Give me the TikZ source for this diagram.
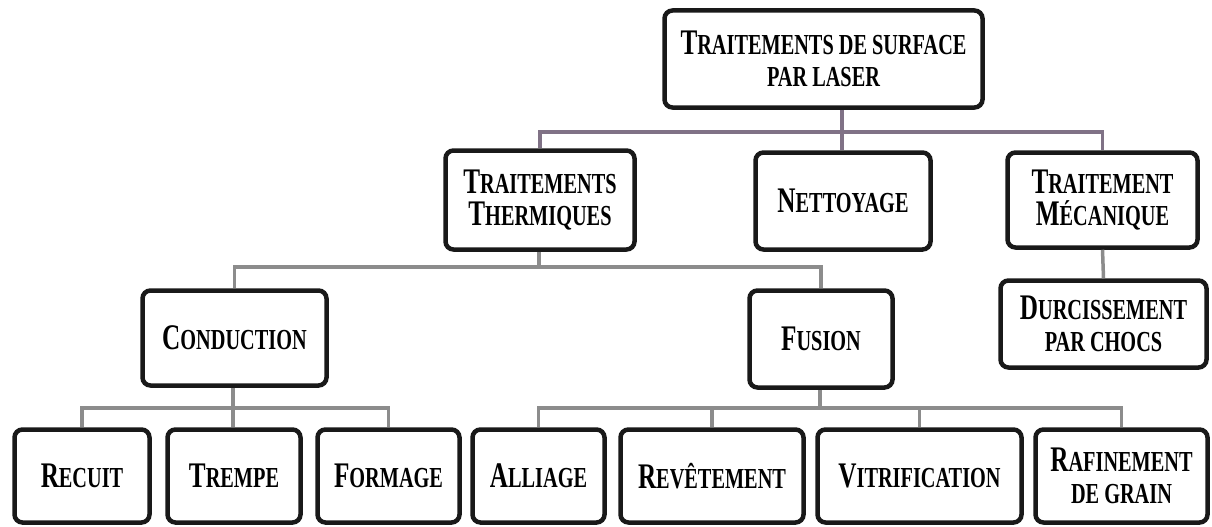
\documentclass[tikz,border=0pt]{standalone}
\usepackage{fontspec}
\newfontfamily\boxfont{Liberation Serif}[FakeStretch=0.7]
\newcommand\sk[2]{{\fontsize{36}{32}\selectfont #1}{\fontsize{29}{32}\selectfont #2}}
\definecolor{topline}{RGB}{128,114,134}
\definecolor{subline}{RGB}{140,140,140}
\definecolor{boxline}{RGB}{25,25,25}
\tikzset{
  box/.style={draw=boxline, line width=4.5pt, rounded corners=8pt, fill=white,
    align=center, inner sep=0pt, font=\boxfont\bfseries\fontsize{36}{32}\selectfont},
  conn/.style={line width=3.5pt, draw=subline},
  topconn/.style={line width=3.5pt, draw=topline},
}
\begin{document}
\begin{tikzpicture}[x=1pt,y=-1pt]
\useasboundingbox (0,0) rectangle (1212,527);
\coordinate (j1) at (842,132);
\coordinate (j2) at (539,267);
\coordinate (j3) at (233,408);
\coordinate (j4) at (820,408);
% boxes
\node[box, minimum width=318pt, minimum height=97pt] (root) at (823.5,59) {\sk{T}{RAITEMENTS DE SURFACE}\\\sk{}{PAR LASER}};
\node[box, minimum width=189pt, minimum height=99pt] (therm) at (540,200) {\sk{T}{RAITEMENTS}\\\sk{T}{HERMIQUES}};
\node[box, minimum width=175pt, minimum height=97pt] (nett) at (843,201) {\sk{N}{ETTOYAGE}};
\node[box, minimum width=190pt, minimum height=95pt] (meca) at (1102.5,200) {\sk{T}{RAITEMENT}\\\sk{M}{ÉCANIQUE}};
\node[box, minimum width=206pt, minimum height=87pt] (durc) at (1103.5,324) {\sk{D}{URCISSEMENT}\\\sk{}{PAR CHOCS}};
\node[box, minimum width=184pt, minimum height=95pt] (cond) at (234.5,338) {\sk{C}{ONDUCTION}};
\node[box, minimum width=143pt, minimum height=97pt] (fusion) at (821,339) {\sk{F}{USION}};
\node[box, minimum width=135pt, minimum height=93pt] (recuit) at (82,476) {\sk{R}{ECUIT}};
\node[box, minimum width=133pt, minimum height=93pt] (trempe) at (234,476) {\sk{T}{REMPE}};
\node[box, minimum width=142pt, minimum height=93pt] (formage) at (388.5,476) {\sk{F}{ORMAGE}};
\node[box, minimum width=132pt, minimum height=93pt] (alliage) at (538.5,476) {\sk{A}{LLIAGE}};
\node[box, minimum width=183pt, minimum height=93pt] (revet) at (712,476) {\sk{R}{EVÊTEMENT}};
\node[box, minimum width=204pt, minimum height=93pt] (vitri) at (919.5,476) {\sk{V}{ITRIFICATION}};
\node[box, minimum width=172pt, minimum height=93pt] (rafin) at (1121.5,476) {\sk{R}{AFINEMENT}\\\sk{}{DE GRAIN}};
% connectors
\draw[topconn] (root.south -| j1) -- (j1) -| (therm.north);
\draw[topconn] (j1) -- (nett.north -| j1);
\draw[topconn] (j1) -| (meca.north);
\draw[conn] (meca.south) -- (durc.north);
\draw[conn] (therm.south -| j2) -- (j2) -| (cond.north);
\draw[conn] (j2) -| (fusion.north);
\draw[conn] (cond.south -| j3) -- (j3) -| (recuit.north);
\draw[conn] (j3) -- (trempe.north -| j3);
\draw[conn] (j3) -| (formage.north);
\draw[conn] (fusion.south -| j4) -- (j4) -| (alliage.north);
\draw[conn] (j4) -| (revet.north);
\draw[conn] (j4) -| (vitri.north);
\draw[conn] (j4) -| (rafin.north);
\end{tikzpicture}
\end{document}
